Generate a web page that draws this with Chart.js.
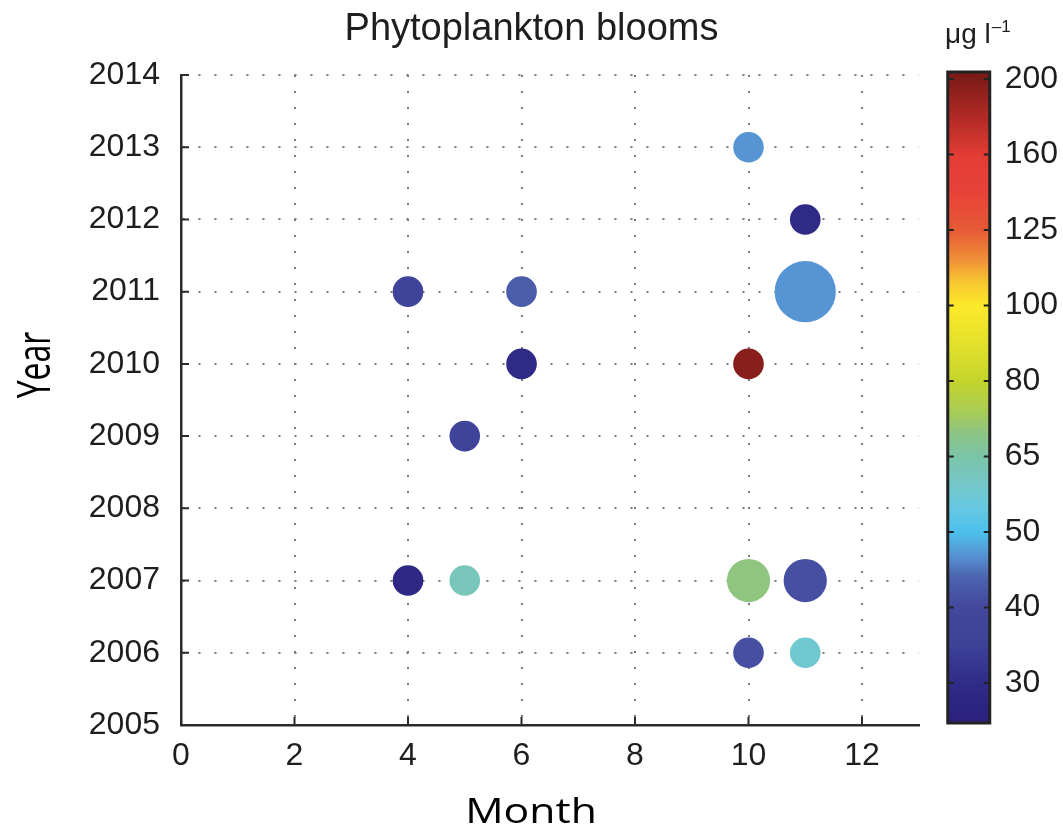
<!DOCTYPE html>
<html>
<head>
<meta charset="utf-8">
<title>Phytoplankton blooms</title>
<script src="https://cdn.jsdelivr.net/npm/chart.js@4.4.1/dist/chart.umd.min.js"></script>
<style>
  html, body { margin: 0; padding: 0; background: #fff; }
  #wrap { width: 1063px; height: 828px; }
</style>
</head>
<body>
<div id="wrap"><canvas id="bloomChart" width="1063" height="828"></canvas></div>
<script>
// one entry per bloom: month, year, peak chlorophyll (ug/l), relative size
var bloomMonth = [10, 11, 4, 6, 11, 6, 10, 5, 4, 5, 10, 11, 10, 11];
var bloomYear  = [2013, 2012, 2011, 2011, 2011, 2010, 2010, 2009, 2007, 2007, 2007, 2007, 2006, 2006];
var bloomChl   = [47, 29, 37, 43, 47, 29, 196, 37, 28, 62, 70, 41, 41, 58];
var bloomSize  = [1, 1, 1, 1, 4, 1, 1, 1, 1, 1, 2, 2, 1, 1];

var monthTicks = [0, 2, 4, 6, 8, 10, 12];
var colorTicks = [30, 40, 50, 65, 80, 100, 125, 160, 200];

// colour bar runs on tick index (0 = 30 ... 8 = 200)
var cbMin = -0.556, cbMax = 8.053;
var cmap = [
    [-0.56, '#2a1e7c'], [0, '#302c88'], [0.5, '#3d4198'], [1, '#43489c'],
    [1.4, '#4d63b0'], [1.7, '#5694d4'], [2, '#4cc0ec'], [2.3, '#64c8e2'],
    [2.6, '#74c8cc'], [3, '#7bc4a8'], [3.3, '#8cc484'], [3.6, '#a9cc55'],
    [4, '#c4d42a'], [4.5, '#e4e12b'], [5, '#fde92a'], [5.3, '#f7c830'],
    [5.6, '#f09038'], [6, '#e65a35'], [6.5, '#e8433a'], [7, '#e23c34'],
    [7.5, '#b02a25'], [8.06, '#7a1a18']
];

function hexRgb(h) {
    return [parseInt(h.substr(1, 2), 16), parseInt(h.substr(3, 2), 16), parseInt(h.substr(5, 2), 16)];
}

function colorAt(idx) {
    if (idx <= cmap[0][0]) return cmap[0][1];
    for (var i = 1; i < cmap.length; i++) {
        if (idx <= cmap[i][0]) {
            var t = (idx - cmap[i - 1][0]) / (cmap[i][0] - cmap[i - 1][0]);
            var a = hexRgb(cmap[i - 1][1]), b = hexRgb(cmap[i][1]);
            return 'rgb(' + Math.round(a[0] + (b[0] - a[0]) * t) + ',' +
                Math.round(a[1] + (b[1] - a[1]) * t) + ',' +
                Math.round(a[2] + (b[2] - a[2]) * t) + ')';
        }
    }
    return cmap[cmap.length - 1][1];
}

function chlToIndex(v) {
    var t = colorTicks, n = t.length;
    if (v <= t[0]) return (v - t[0]) / (t[1] - t[0]);
    for (var i = 1; i < n; i++) {
        if (v <= t[i]) return i - 1 + (v - t[i - 1]) / (t[i] - t[i - 1]);
    }
    return n - 1 + (v - t[n - 1]) / (t[n - 1] - t[n - 2]);
}

var points = bloomMonth.map(function (m, i) {
    return { x: m, y: bloomYear[i], r: 15.3 * Math.sqrt(bloomSize[i]) };
});
var pointColors = bloomChl.map(function (v) { return colorAt(chlToIndex(v)); });

var tickFont = { family: '"Liberation Sans", Arial, sans-serif', size: 32 };
var tickColor = '#1e1e1e';
var gridDots = { color: '#7a7a7a', lineWidth: 2, drawTicks: false };
var axisBorder = { display: true, color: '#2b2b2b', width: 2.5, dash: [2, 14] };

// keep label overhang from pushing the plot area around
function noOverhang(s) {
    s.paddingTop = 0; s.paddingBottom = 0;
    s.paddingLeft = 0; s.paddingRight = 0;
}

// inward ticks, colour bar and the axis names
var extras = {
    id: 'extras',
    afterDraw: function (chart) {
        var ctx = chart.ctx, a = chart.chartArea;
        var xs = chart.scales.x, ys = chart.scales.y, cb = chart.scales.cb;
        ctx.save();

        ctx.strokeStyle = '#2b2b2b';
        ctx.lineWidth = 2;
        ctx.beginPath();
        monthTicks.forEach(function (m) {
            var px = xs.getPixelForValue(m);
            ctx.moveTo(px, a.bottom);
            ctx.lineTo(px, a.bottom - 8);
        });
        for (var yr = ys.min; yr <= ys.max; yr++) {
            var py = ys.getPixelForValue(yr);
            ctx.moveTo(a.left, py);
            ctx.lineTo(a.left + 8, py);
        }
        ctx.stroke();

        // colour bar
        var bx0 = cb.left + 29, bx1 = cb.left + 71;
        var top = a.top - 3, bot = a.bottom - 2;
        var yLo = cb.getPixelForValue(cbMin), yHi = cb.getPixelForValue(cbMax);
        var g = ctx.createLinearGradient(0, yLo, 0, yHi);
        cmap.forEach(function (s) {
            var off = (s[0] - cbMin) / (cbMax - cbMin);
            g.addColorStop(Math.min(1, Math.max(0, off)), s[1]);
        });
        ctx.fillStyle = g;
        ctx.fillRect(bx0, top, bx1 - bx0, bot - top);
        ctx.strokeStyle = '#222';
        ctx.lineWidth = 3;
        ctx.strokeRect(bx0, top, bx1 - bx0, bot - top);
        ctx.lineWidth = 2;
        ctx.beginPath();
        colorTicks.forEach(function (v, i) {
            var py = cb.getPixelForValue(i);
            ctx.moveTo(bx0, py); ctx.lineTo(bx0 + 6, py);
            ctx.moveTo(bx1, py); ctx.lineTo(bx1 - 6, py);
        });
        ctx.stroke();

        // unit label
        ctx.fillStyle = tickColor;
        ctx.textAlign = 'left';
        ctx.textBaseline = 'alphabetic';
        ctx.font = '28px "Liberation Sans", Arial, sans-serif';
        ctx.fillText('\u03BCg l', 945, 43);
        var w = ctx.measureText('\u03BCg l').width;
        ctx.font = '17px "Liberation Sans", Arial, sans-serif';
        ctx.fillText('\u20131', 945 + w + 1, 32);

        // axis names
        ctx.fillStyle = '#000';
        ctx.font = '35px "Open Sans", "Noto Sans", sans-serif';
        ctx.textAlign = 'center';
        ctx.save();
        ctx.translate(531, 823);
        ctx.scale(1.22, 1);
        ctx.fillText('Month', 0, 0);
        ctx.restore();

        ctx.font = '32px "Open Sans", "Noto Sans", sans-serif';
        ctx.save();
        ctx.translate(50, 365);
        ctx.scale(1.4, 1);
        ctx.rotate(-Math.PI / 2);
        ctx.fillText('Year', 0, 0);
        ctx.restore();

        ctx.restore();
    }
};

var ctx = document.getElementById('bloomChart').getContext('2d');
var bloomChart = new Chart(ctx, {
    type: 'bubble',
    data: {
        datasets: [{
            label: 'Blooms',
            data: points,
            backgroundColor: pointColors,
            borderWidth: 0,
            hoverRadius: 0
        }]
    },
    options: {
        responsive: false,
        animation: false,
        layout: { padding: 0 },
        plugins: {
            legend: { display: false },
            tooltip: { enabled: false },
            title: {
                display: true,
                text: 'Phytoplankton blooms',
                color: '#1e1e1e',
                font: { family: '"Liberation Sans", Arial, sans-serif', size: 38, weight: 'normal', lineHeight: 1.2 },
                padding: { top: 7, bottom: 22.4 }
            }
        },
        scales: {
            x: {
                type: 'linear',
                min: 0,
                max: 13,
                afterBuildTicks: function (s) { s.ticks = monthTicks.map(function (v) { return { value: v }; }); },
                afterFit: function (s) { s.height = 103; noOverhang(s); },
                grid: gridDots,
                border: axisBorder,
                ticks: { font: tickFont, color: tickColor, padding: 12, autoSkip: false, maxRotation: 0 }
            },
            y: {
                type: 'linear',
                min: 2005,
                max: 2014,
                afterFit: function (s) { s.width = 181; noOverhang(s); },
                grid: gridDots,
                border: axisBorder,
                ticks: {
                    stepSize: 1,
                    font: tickFont,
                    color: tickColor,
                    padding: 21,
                    autoSkip: false,
                    callback: function (v) { return String(v); }
                }
            },
            cb: {
                type: 'linear',
                position: 'right',
                min: cbMin,
                max: cbMax,
                afterBuildTicks: function (s) { s.ticks = colorTicks.map(function (v, i) { return { value: i }; }); },
                afterFit: function (s) { s.width = 144.25; noOverhang(s); },
                grid: { display: false, drawTicks: false },
                border: { display: false },
                ticks: {
                    font: tickFont,
                    color: tickColor,
                    padding: 86,
                    autoSkip: false,
                    callback: function (v, i) { return String(colorTicks[i]); }
                }
            }
        }
    },
    plugins: [extras]
});
</script>
</body>
</html>
